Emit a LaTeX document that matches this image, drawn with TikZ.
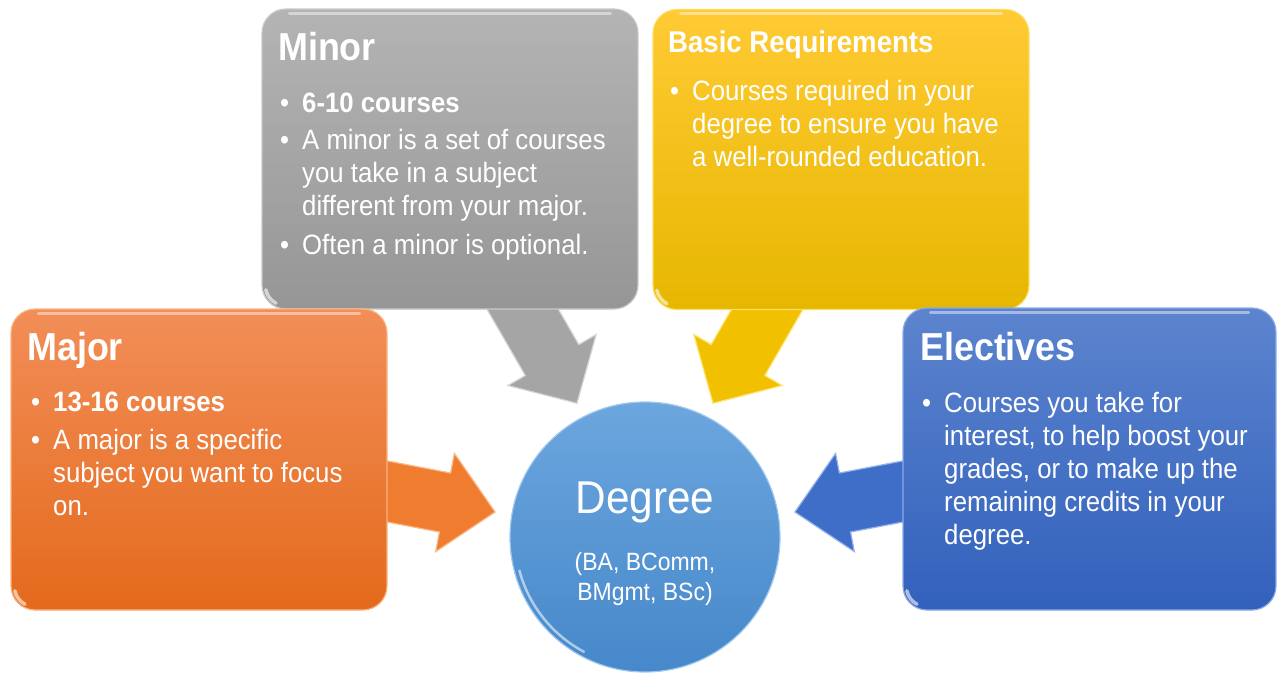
\documentclass[tikz,border=0pt]{standalone}
\usepackage{fontspec}
\setmainfont{Liberation Sans}[FakeStretch=0.92]
\definecolor{minorT}{RGB}{180,180,180}
\definecolor{minorB}{RGB}{150,150,150}
\definecolor{minorE}{RGB}{200,200,200}
\definecolor{basicT}{RGB}{255,202,52}
\definecolor{basicB}{RGB}{230,183,0}
\definecolor{basicE}{RGB}{255,220,100}
\definecolor{majorT}{RGB}{242,142,88}
\definecolor{majorB}{RGB}{228,106,28}
\definecolor{majorE}{RGB}{250,180,130}
\definecolor{elecT}{RGB}{92,132,206}
\definecolor{elecB}{RGB}{50,97,188}
\definecolor{elecE}{RGB}{140,170,230}
\definecolor{degT}{RGB}{108,166,222}
\definecolor{degB}{RGB}{70,136,202}
\definecolor{degE}{RGB}{160,200,240}
\definecolor{arrGray}{RGB}{165,165,165}
\definecolor{arrGrayE}{RGB}{215,215,215}
\definecolor{arrYel}{RGB}{241,192,0}
\definecolor{arrYelE}{RGB}{255,228,110}
\definecolor{arrOra}{RGB}{240,124,48}
\definecolor{arrOraE}{RGB}{250,185,135}
\definecolor{arrBlu}{RGB}{62,110,200}
\definecolor{arrBluE}{RGB}{150,180,235}
\newcommand\bulitem{\makebox[22pt][l]{\textbullet}}
\newcommand\hangpad{\hspace*{22pt}}
\begin{document}
\begin{tikzpicture}[x=1pt,y=-1pt,
  boxbase/.style={rectangle, rounded corners=24pt, inner sep=0pt, line width=1.2pt},
  minorbox/.style={boxbase, top color=minorT, bottom color=minorB, draw=minorE},
  basicbox/.style={boxbase, top color=basicT, bottom color=basicB, draw=basicE},
  majorbox/.style={boxbase, top color=majorT, bottom color=majorB, draw=majorE},
  elecbox/.style={boxbase, top color=elecT, bottom color=elecB, draw=elecE},
  degcircle/.style={circle, minimum size=270pt, inner sep=0pt, top color=degT, bottom color=degB, draw=degE, line width=1.2pt},
  blockarrow/.style={line width=1.2pt, line join=miter},
  gloss/.style={white, opacity=0.45, line width=3pt, line cap=round},
  glare/.style={white, opacity=0.6, line width=3.5pt, line cap=round},
  titletext/.style={anchor=base west, inner sep=0pt, text=white, font=\fontsize{39}{44}\selectfont\bfseries},
  bodytext/.style={anchor=north west, inner sep=0pt, text=white, align=left, font=\fontsize{28}{33}\selectfont}]
\useasboundingbox (0,0) rectangle (1277,675);

% block arrows (drawn first, shafts hidden under the boxes)
\filldraw[blockarrow, fill=arrGray, draw=arrGrayE]
  (485.2,306.2) -- (525.2,375.5) -- (507.8,385.5) -- (577,403.3) -- (596.2,334.5) -- (578.8,344.5) -- (538.8,275.2) -- cycle;
\filldraw[blockarrow, fill=arrYel, draw=arrYelE]
  (804.8,306.2) -- (764.8,375.5) -- (782.2,385.5) -- (713,403.3) -- (693.8,334.5) -- (711.2,344.5) -- (751.2,275.2) -- cycle;
\filldraw[blockarrow, fill=arrOra, draw=arrOraE]
  (372,458) -- (450.6,473) -- (454.4,453.4) -- (495.1,512) -- (435.7,551.6) -- (439.4,532) -- (360.8,517) -- cycle;
\filldraw[blockarrow, fill=arrBlu, draw=arrBluE]
  (918,458) -- (839.4,473) -- (835.6,453.4) -- (794.9,512) -- (854.3,551.6) -- (850.6,532) -- (929.2,517) -- cycle;

% boxes
\node[minorbox, minimum width=376pt, minimum height=300pt] (minor) at (450,159) {};
\node[basicbox, minimum width=376pt, minimum height=300pt] (basic) at (841,159.5) {};
\node[majorbox, minimum width=376pt, minimum height=301pt] (major) at (199,459.5) {};
\node[elecbox, minimum width=373pt, minimum height=302pt] (elec) at (1089.5,459) {};

% gloss highlights
\foreach \b in {minor,basic,major,elec}{
  \draw[gloss] ([xshift=28pt,yshift=-5pt]\b.north west) -- ([xshift=-28pt,yshift=-5pt]\b.north east);
  \draw[glare] ([xshift=24pt,yshift=24pt]\b.south west) ++(168:20) arc[start angle=168, end angle=118, radius=20];
}

% degree circle
\node[degcircle] (degree) at (645,537) {};
\draw[white, opacity=0.55, line width=2.5pt, line cap=round]
  (degree.center) ++(118:130) arc[start angle=118, end angle=165, radius=130];

% texts
\node[titletext] (minorTitle) at (278,60) {Minor};
\node[bodytext] (minorBody) at (280,93) {%
\bulitem\textbf{6-10 courses}\\[4pt]
\bulitem A minor is a set of courses\\
\hangpad you take in a subject\\
\hangpad different from your major.\\[6pt]
\bulitem Often a minor is optional.};

\node[titletext, font=\fontsize{30}{34}\selectfont\bfseries] (basicTitle) at (668,52) {Basic Requirements};
\node[bodytext] (basicBody) at (670,80) {%
\bulitem Courses required in your\\
\hangpad degree to ensure you have\\
\hangpad a well-rounded education.};

\node[titletext] (majorTitle) at (27,360) {Major};
\node[bodytext] (majorBody) at (31,392) {%
\bulitem\textbf{13-16 courses}\\[5pt]
\bulitem A major is a specific\\
\hangpad subject you want to focus\\
\hangpad on.};

\node[titletext] (elecTitle) at (920,360) {Electives};
\node[bodytext] (elecBody) at (922,392) {%
\bulitem Courses you take for\\
\hangpad interest, to help boost your\\
\hangpad grades, or to make up the\\
\hangpad remaining credits in your\\
\hangpad degree.};

\node[anchor=base, inner sep=0pt, text=white, font=\fontsize{46}{50}\selectfont] (degTitle) at (645,513) {Degree};
\node[anchor=north, inner sep=0pt, text=white, align=center, font=\fontsize{25}{30}\selectfont] (degSub) at (645,552) {(BA, BComm,\\BMgmt, BSc)};
\end{tikzpicture}
\end{document}
